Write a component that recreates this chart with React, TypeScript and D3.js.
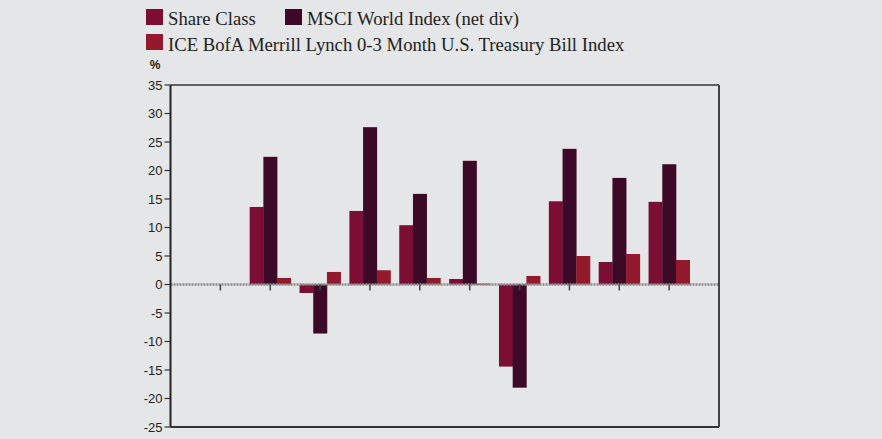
import React from "react";
import * as d3 from "d3";

const categories = ["", "Y1", "Y2", "Y3", "Y4", "Y5", "Y6", "Y7", "Y8", "Y9"];
const shareClass = [null, 13.6, -1.5, 12.9, 10.4, 0.96, -14.4, 14.6, 3.95, 14.5];
const msciWorld = [null, 22.4, -8.6, 27.6, 15.9, 21.7, -18.1, 23.8, 18.7, 21.1];
const iceBofa = [null, 1.15, 2.2, 2.5, 1.15, 0.15, 1.5, 5.0, 5.35, 4.3];
const seriesNames = ["Share Class", "MSCI World Index (net div)", "ICE BofA Merrill Lynch 0-3 Month U.S. Treasury Bill Index"];
const seriesColors = ["#7b0e32", "#3c0a26", "#931a2d"];
const yTicks = [35, 30, 25, 20, 15, 10, 5, 0, -5, -10, -15, -20, -25];

const W = 882, H = 439;
const plot = { left: 170.5, right: 719, top: 85, bottom: 427 };

export default function App() {
  const x = d3.scaleLinear().domain([0, categories.length + 1]).range([plot.left, plot.right]);
  const y = d3.scaleLinear().domain([-25, 35]).range([plot.bottom, plot.top]);
  const all = [shareClass, msciWorld, iceBofa];
  const unit = x(1) - x(0);
  const barW = unit * 0.275;
  const tickFont = "'Liberation Sans Narrow', 'Arial Narrow', 'Liberation Sans', sans-serif";
  const serif = "'Liberation Serif', 'Times New Roman', serif";
  return (
    <div style={{ position: "fixed", left: 0, top: 0, width: W, height: H, background: "#e5e6e8" }}>
      <svg width={W} height={H} style={{ display: "block" }}>
        <rect x={0} y={0} width={W} height={H} fill="#e5e6e8" />
        {/* legend */}
        <g fontFamily={serif} fontSize={18.7} fill="#222">
          <rect x={146} y={9} width={17} height={16} fill={seriesColors[0]} />
          <text x={168} y={25}>{seriesNames[0]}</text>
          <rect x={285} y={9} width={17} height={16} fill={seriesColors[1]} />
          <text x={307} y={25}>{seriesNames[1]}</text>
          <rect x={146} y={34} width={17} height={16} fill={seriesColors[2]} />
          <text x={168} y={51}>{seriesNames[2]}</text>
        </g>
        {/* bars */}
        {all.map((vals, si) =>
          vals.map((v, i) => {
            if (v === null) return null;
            const cx = x(i + 1);
            const bx = cx - 1.5 * barW + si * barW;
            const y0 = y(0), y1 = y(v as number);
            return (
              <rect key={`${si}-${i}`} x={bx} y={Math.min(y0, y1)} width={barW + 0.3}
                height={Math.max(1, Math.abs(y1 - y0))} fill={seriesColors[si]} />
            );
          })
        )}
        {/* zero line */}
        <line x1={plot.left} x2={plot.right} y1={y(0)} y2={y(0)} stroke="#8a8a8a" strokeWidth={2.5} strokeDasharray="2,1" />
        {/* category ticks */}
        {categories.map((c, i) => (
          <line key={"ct" + i} x1={x(i + 1)} x2={x(i + 1)} y1={y(0)} y2={y(0) + 6} stroke="#444" strokeWidth={1.5} />
        ))}
        {/* frame */}
        <line x1={plot.left} x2={plot.right} y1={plot.top} y2={plot.top} stroke="#333" strokeWidth={1.5} />
        <line x1={plot.left} x2={plot.right} y1={plot.bottom} y2={plot.bottom} stroke="#333" strokeWidth={2} />
        <line x1={plot.right} x2={plot.right} y1={plot.top} y2={plot.bottom} stroke="#444" strokeWidth={2} />
        <line x1={plot.left} x2={plot.left} y1={plot.top} y2={plot.bottom} stroke="#222" strokeWidth={2} />
        {/* y ticks */}
        <g fontFamily={tickFont} fontSize={13} fill="#222">
          {yTicks.map((t) => (
            <g key={t}>
              <line x1={plot.left - 6} x2={plot.left} y1={y(t)} y2={y(t)} stroke="#333" strokeWidth={1.2} />
              <text x={plot.left - 8} y={y(t)} dy="0.35em" textAnchor="end">{t}</text>
            </g>
          ))}
          <text x={155} y={69} textAnchor="middle" fontWeight="bold" fontSize={12}>%</text>
        </g>
      </svg>
    </div>
  );
}
